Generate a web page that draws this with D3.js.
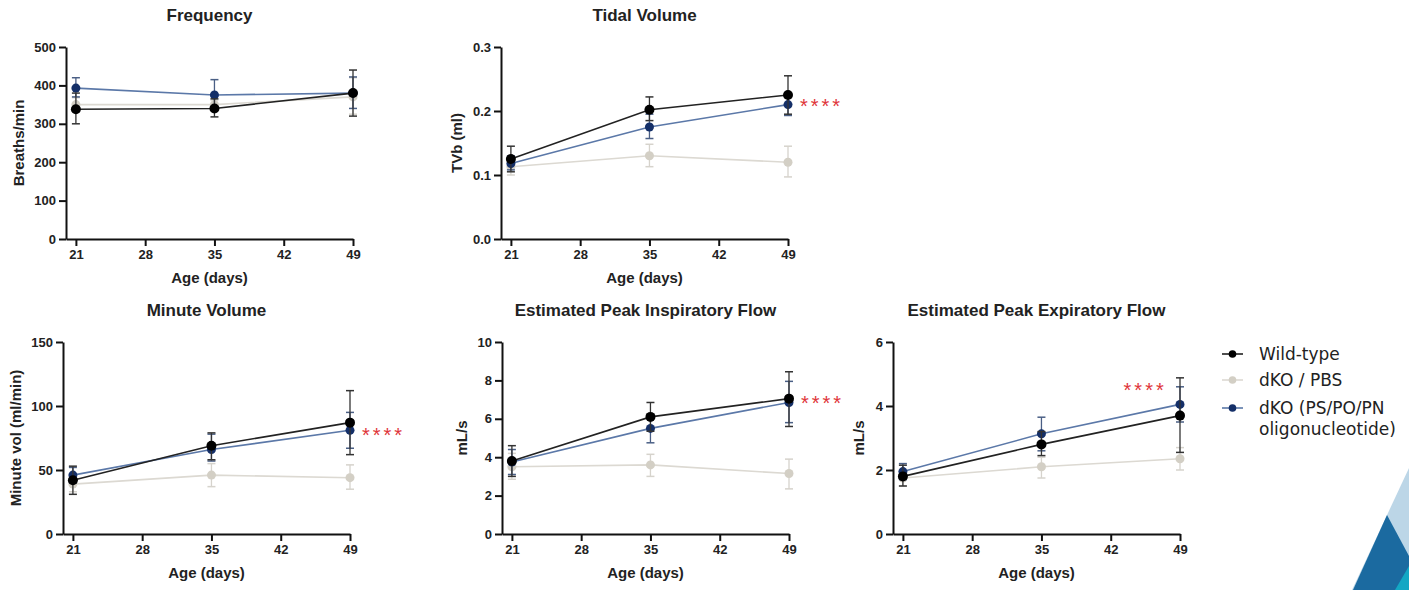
<!DOCTYPE html>
<html>
<head>
<meta charset="utf-8">
<script src="https://cdn.jsdelivr.net/npm/d3@7"></script>
<style>
  body { margin: 0; background: #fff; }
  svg { display: block; }
</style>
</head>
<body>
<div id="chart"></div>
<script>
// Data
const days = [21, 35, 49];
const xTicks = [21, 28, 35, 42, 49];
const groups = ["Wild-type", "dKO / PBS", "dKO (PS/PO/PN", "oligonucleotide)"];

// Frequency (breaths/min)
const freqWT = [338, 340, 380], freqWTlo = [300, 318, 320], freqWThi = [380, 365, 440];
const freqPBS = [350, 350, 370], freqPBSlo = [332, 340, 325], freqPBShi = [368, 362, 420];
const freqPS = [393, 375, 380], freqPSlo = [370, 345, 340], freqPShi = [420, 415, 422];

// Tidal volume (ml)
const tvWT = [0.125, 0.202, 0.225], tvWTlo = [0.105, 0.185, 0.195], tvWThi = [0.145, 0.222, 0.255];
const tvPBS = [0.113, 0.130, 0.120], tvPBSlo = [0.100, 0.113, 0.097], tvPBShi = [0.125, 0.148, 0.145];
const tvPS = [0.118, 0.175, 0.210], tvPSlo = [0.108, 0.157, 0.193], tvPShi = [0.130, 0.195, 0.227];

// Minute volume (ml/min)
const mvWT = [42, 69, 87], mvWTlo = [31, 58, 62], mvWThi = [53, 79, 112];
const mvPBS = [39, 46, 44], mvPBSlo = [33, 37, 35], mvPBShi = [45, 55, 54];
const mvPS = [46, 66, 81], mvPSlo = [40, 57, 67], mvPShi = [52, 78, 95];

// Estimated peak inspiratory flow (mL/s)
const pifWT = [3.8, 6.1, 7.05], pifWTlo = [3.0, 5.35, 5.6], pifWThi = [4.6, 6.85, 8.45];
const pifPBS = [3.5, 3.6, 3.15], pifPBSlo = [2.85, 3.0, 2.35], pifPBShi = [4.2, 4.15, 3.9];
const pifPS = [3.75, 5.5, 6.85], pifPSlo = [3.1, 4.75, 5.8], pifPShi = [4.4, 6.2, 7.95];

// Estimated peak expiratory flow (mL/s)
const pefWT = [1.8, 2.8, 3.7], pefWTlo = [1.5, 2.45, 2.55], pefWThi = [2.15, 3.2, 4.88];
const pefPBS = [1.75, 2.1, 2.35], pefPBSlo = [1.5, 1.75, 2.0], pefPBShi = [2.0, 2.4, 2.7];
const pefPS = [1.95, 3.13, 4.05], pefPSlo = [1.7, 2.6, 3.5], pefPShi = [2.2, 3.65, 4.6];

const width = 1409, height = 590;
const pw = 287, ph = 192;

const colors = {
  pbs:  { line: "#dcd9d2", dot: "#d3cfc5", err: "#d6d3cc" },
  ps:   { line: "#5b78a8", dot: "#142f68", err: "#4a5f85" },
  wt:   { line: "#222222", dot: "#000000", err: "#333333" }
};

const panels = [
  { title: "Frequency", ylab: "Breaths/min", left: 66, top: 47, ymax: 500, ystep: 100, fmt: d3.format("d"),
    series: { wt: [freqWT, freqWTlo, freqWThi], pbs: [freqPBS, freqPBSlo, freqPBShi], ps: [freqPS, freqPSlo, freqPShi] } },
  { title: "Tidal Volume", ylab: "TVb (ml)", left: 501, top: 47, ymax: 0.3, ystep: 0.1, fmt: d3.format(".1f"),
    series: { wt: [tvWT, tvWTlo, tvWThi], pbs: [tvPBS, tvPBSlo, tvPBShi], ps: [tvPS, tvPSlo, tvPShi] },
    stars: [50.2, 0.212] },
  { title: "Minute Volume", ylab: "Minute vol (ml/min)", left: 63, top: 342, ymax: 150, ystep: 50, fmt: d3.format("d"),
    series: { wt: [mvWT, mvWTlo, mvWThi], pbs: [mvPBS, mvPBSlo, mvPBShi], ps: [mvPS, mvPSlo, mvPShi] },
    stars: [50.2, 80] },
  { title: "Estimated Peak Inspiratory Flow", ylab: "mL/s", left: 502, top: 342, ymax: 10, ystep: 2, fmt: d3.format("d"),
    series: { wt: [pifWT, pifWTlo, pifWThi], pbs: [pifPBS, pifPBSlo, pifPBShi], ps: [pifPS, pifPSlo, pifPShi] },
    stars: [50.2, 7.0] },
  { title: "Estimated Peak Expiratory Flow", ylab: "mL/s", left: 893, top: 342, ymax: 6, ystep: 2, fmt: d3.format("d"),
    series: { wt: [pefWT, pefWTlo, pefWThi], pbs: [pefPBS, pefPBSlo, pefPBShi], ps: [pefPS, pefPSlo, pefPShi] },
    stars: [43.3, 4.6] }
];

const svg = d3.select("#chart").append("svg")
  .attr("width", width).attr("height", height);

// Decorative corner shapes
const deco = svg.append("g");
deco.append("polygon").attr("points", "1352,590 1409,468 1409,590").attr("fill", "#bcd6e7");
deco.append("polygon").attr("points", "1353,590 1387,515 1409,556 1409,590").attr("fill", "#1b6aa0");
deco.append("polygon").attr("points", "1395,590 1409,566 1409,590").attr("fill", "#13a7c4");

const font = "'Liberation Sans', Arial, sans-serif";

panels.forEach(p => {
  const g = svg.append("g").attr("transform", `translate(${p.left},${p.top})`);
  const x = d3.scaleLinear().domain([20, 49]).range([0, pw]);
  const y = d3.scaleLinear().domain([0, p.ymax]).range([ph, 0]);

  // axes
  const xAxis = g.append("g").attr("transform", `translate(0,${ph})`)
    .call(d3.axisBottom(x).tickValues(xTicks).tickSize(7).tickPadding(4).tickSizeOuter(0));
  const yTicks = d3.range(0, p.ymax + p.ystep / 2, p.ystep);
  const yAxis = g.append("g")
    .call(d3.axisLeft(y).tickValues(yTicks).tickFormat(p.fmt).tickSize(7).tickPadding(3).tickSizeOuter(0));
  [xAxis, yAxis].forEach(a => {
    a.select(".domain").attr("stroke", "#111").attr("stroke-width", 2);
    a.selectAll(".tick line").attr("stroke", "#111").attr("stroke-width", 2);
    a.selectAll(".tick text").attr("fill", "#222").style("font-family", font)
      .style("font-size", "13px").style("font-weight", "bold");
  });

  // titles
  g.append("text").attr("x", pw / 2).attr("y", -26).attr("text-anchor", "middle")
    .style("font-family", font).style("font-size", "17px").style("font-weight", "bold")
    .attr("fill", "#222").text(p.title);
  g.append("text").attr("x", pw / 2).attr("y", ph + 44).attr("text-anchor", "middle")
    .style("font-family", font).style("font-size", "15px").style("font-weight", "bold")
    .attr("fill", "#222").text("Age (days)");
  const labW = d3.max(yAxis.selectAll(".tick text").nodes(), n => n.getBBox().width);
  g.append("text")
    .attr("transform", `translate(${-10 - labW - 16},${ph / 2}) rotate(-90)`)
    .attr("text-anchor", "middle").attr("dy", "0.35em")
    .style("font-family", font).style("font-size", "15px").style("font-weight", "bold")
    .attr("fill", "#222").text(p.ylab);

  const line = d3.line().x((d, i) => x(days[i])).y(d => y(d));

  ["pbs", "ps", "wt"].forEach(key => {
    const [mean, lo, hi] = p.series[key];
    const c = colors[key];
    const s = g.append("g");
    // error bars
    days.forEach((dd, i) => {
      s.append("line").attr("x1", x(dd)).attr("x2", x(dd)).attr("y1", y(lo[i])).attr("y2", y(hi[i]))
        .attr("stroke", c.err).attr("stroke-width", 1.3);
      [lo[i], hi[i]].forEach(v => {
        s.append("line").attr("x1", x(dd) - 4).attr("x2", x(dd) + 4).attr("y1", y(v)).attr("y2", y(v))
          .attr("stroke", c.err).attr("stroke-width", 1.5);
      });
    });
    s.append("path").datum(mean).attr("d", line).attr("fill", "none")
      .attr("stroke", c.line).attr("stroke-width", 1.6);
    s.selectAll("circle").data(mean).enter().append("circle")
      .attr("cx", (d, i) => x(days[i])).attr("cy", d => y(d))
      .attr("r", key === "wt" ? 5 : 4.5).attr("fill", c.dot);
  });

  if (p.stars) {
    g.append("text").attr("x", x(p.stars[0])).attr("y", y(p.stars[1]) + 10)
      .style("font-family", font).style("font-size", "20px").style("letter-spacing", "3px")
      .attr("fill", "#e0353a").text("****");
  }
});

// Legend
const legend = svg.append("g").attr("transform", "translate(1222,354)");
const legendKeys = ["wt", "pbs", "ps"];
const legendY = [0, 26, 54];
legendKeys.forEach((k, i) => {
  const row = legend.append("g").attr("transform", `translate(0,${legendY[i]})`);
  row.append("line").attr("x1", 0).attr("x2", 21).attr("y1", 0).attr("y2", 0)
    .attr("stroke", colors[k].line).attr("stroke-width", 1.6);
  row.append("circle").attr("cx", 10.5).attr("cy", 0).attr("r", 3.8).attr("fill", colors[k].dot);
});
legend.selectAll("text.lg").data(groups).enter().append("text")
  .attr("x", 37).attr("y", (d, i) => [0, 26, 54, 75][i]).attr("dy", "0.36em")
  .style("font-family", "'DejaVu Sans', Verdana, sans-serif").style("font-size", "17px")
  .attr("fill", "#222").text(d => d);
</script>
</body>
</html>
